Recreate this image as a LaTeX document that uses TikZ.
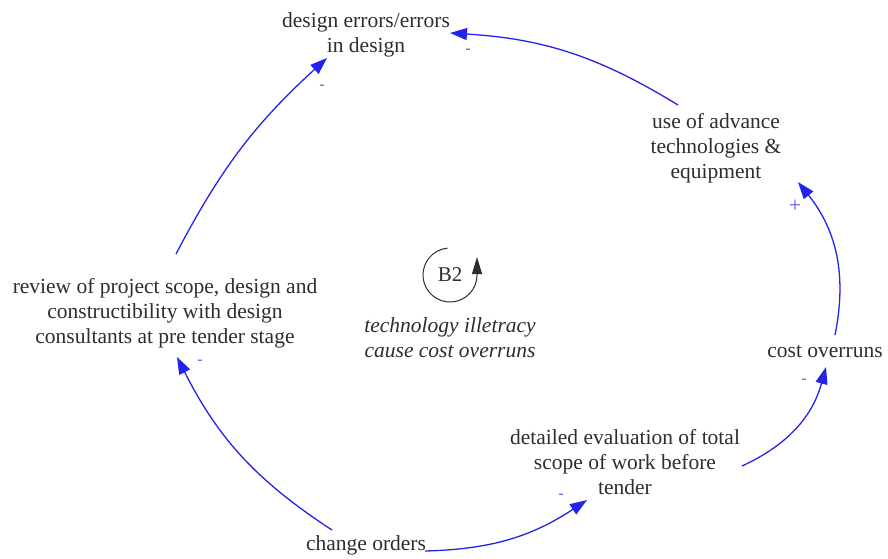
\documentclass[tikz,border=0pt]{standalone}
\usepackage{fontspec}
\setmainfont{Liberation Serif}
\usetikzlibrary{arrows.meta,calc}
\definecolor{linkblue}{RGB}{35,35,235}
\definecolor{txt}{RGB}{45,45,45}
\begin{document}
\begin{tikzpicture}[x=1pt,y=-1pt,
  var/.style={align=center,text=txt,inner sep=0pt,
    font=\fontsize{21.5}{25}\selectfont},
  link/.style={draw=linkblue,line width=1.3pt,
    -{Triangle[length=17pt,width=12pt]}},
  pol/.style={text=linkblue!75,inner sep=0pt,
    font=\fontsize{16}{16}\selectfont}]
\useasboundingbox (0,0) rectangle (888,558);

% variables
\node[var] (design) at (366,35) {design errors/errors\\in design};
\node[var] (use) at (716,148) {use of advance\\technologies \&\\equipment};
\node[var] (cost) at (825,352) {cost overruns};
\node[var] (detail) at (625,462) {detailed evaluation of total\\scope of work before\\tender};
\node[var] (change) at (366,545) {change orders};
\node[var] (review) at (165,313) {review of project scope, design and\\constructibility with design\\consultants at pre tender stage};

% loop identifier
\node[text=txt,inner sep=0pt,font=\fontsize{21}{22}\selectfont] (b2) at (450,275) {B2};
\draw[txt,line width=1pt,-{Triangle[length=17pt,width=10pt]}]
  ($(b2)+(95:27pt)$) arc[start angle=95,end angle=360,radius=27pt] -- ++(0,-18);
\node[var,font=\itshape\fontsize{21.5}{25}\selectfont] (loopname) at (450,338)
  {technology illetracy\\cause cost overruns};

% causal links
\draw[link] ($(change)+(-34,-15)$) to[bend left=15] ($(review)+(12,44)$);
\draw[link] ($(change)+(59,6)$) to[bend right=16] ($(detail)+(-38,38)$);
\draw[link] ($(detail)+(117,4)$) to[bend right=25] ($(cost)+(1,15)$);
\draw[link] ($(cost)+(10,-17)$) to[bend right=25] ($(use)+(82,34)$);
\draw[link] ($(use)+(-38,-43)$) to[bend right=14] ($(design)+(84,-2)$);
\draw[link] ($(review)+(11,-59)$) to[bend left=10] ($(design)+(-39,23)$);

% polarities
\node[pol] (p1) at (468,51) {-};
\node[pol] (p2) at (322,87) {-};
\node[pol,font=\fontsize{22}{22}\selectfont] (p3) at (795,206) {+};
\node[pol] (p4) at (804,381) {-};
\node[pol] (p5) at (561,496) {-};
\node[pol] (p6) at (200,362) {-};
\end{tikzpicture}
\end{document}
